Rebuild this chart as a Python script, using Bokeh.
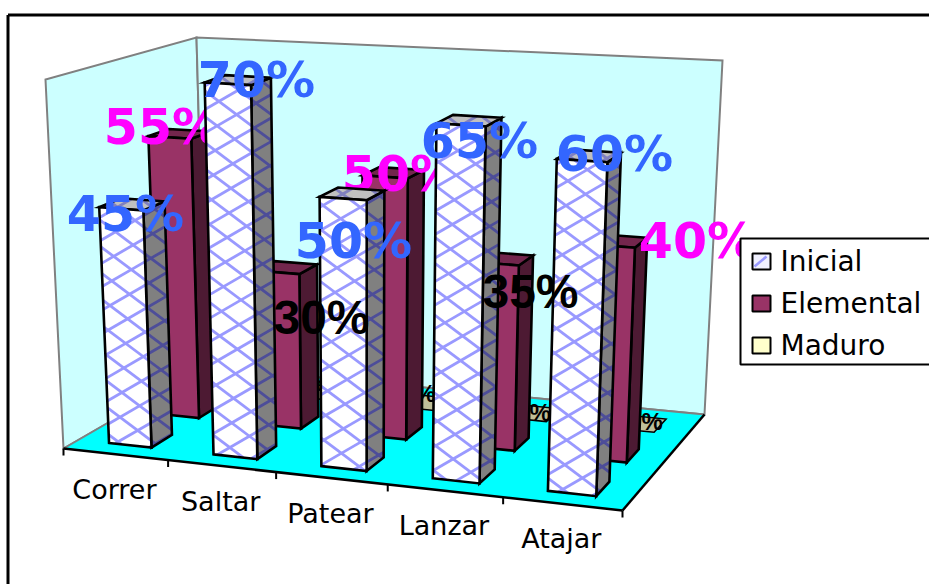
from bokeh.plotting import figure
from bokeh.embed import file_html
from bokeh.resources import INLINE
from bokeh.core.properties import value
import numpy as np

categories = ["Correr", "Saltar", "Patear", "Lanzar", "Atajar"]
series_names = ["Inicial", "Elemental", "Maduro"]
inicial = [45, 70, 50, 65, 60]
elemental = [55, 30, 50, 35, 40]
maduro = [0, 0, 0, 0, 0]
value_max = 70

# placement of the data labels, which were dragged by hand in the original
pos_inicial = [(125, 214), (256, 80), (353, 241), (479, 141), (614, 154)]
pos_elemental = [(162, 127), (321, 317), (400, 174), (530, 291), (697, 241)]
pos_maduro = [(190, 372), (305, 382), (418, 393), (533, 412), (645, 421)]
black_elemental = [1, 3]

# projection of the 3-D box onto the page
FL, FR, BR, BL = (63, 448), (622, 510), (704, 414), (205, 366)
V_FL, V_FR, V_BR, V_BL = (-18, -369), (14.5, -395), (18, -354), (-9, -329)
BAR_W, GAP_D, GAP_FLAT = 0.41, 0.29, 0.27


def homography(src, dst):
    A, b = [], []
    for (u, d), (x, y) in zip(src, dst):
        A.append([u, d, 1, 0, 0, 0, -u * x, -d * x]); b.append(x)
        A.append([0, 0, 0, u, d, 1, -u * y, -d * y]); b.append(y)
    return np.append(np.linalg.solve(np.array(A, float), np.array(b, float)), 1).reshape(3, 3)


H = homography([(0, 0), (1, 0), (1, 1), (0, 1)], [FL, FR, BR, BL])


def P(u, d, val=0.0):
    q = H @ np.array([u, d, 1.0])
    base = q[:2] / q[2]
    vx = np.array(V_FL) * (1 - u) * (1 - d) + np.array(V_FR) * u * (1 - d) + np.array(V_BR) * u * d + np.array(V_BL) * (1 - u) * d
    return base + vx * val / value_max


def clip_line(a, b, poly):
    """clip segment a-b to a convex polygon"""
    t0, t1 = 0.0, 1.0
    a, b = np.array(a, float), np.array(b, float)
    dr = b - a
    c = np.mean(poly, axis=0)
    n = len(poly)
    for i in range(n):
        p, q = np.array(poly[i]), np.array(poly[(i + 1) % n])
        e = q - p
        nrm = np.array([-e[1], e[0]])
        if np.dot(nrm, c - p) < 0:
            nrm = -nrm
        den = np.dot(nrm, dr)
        num = np.dot(nrm, a - p)
        if abs(den) < 1e-9:
            if num < 0:
                return None
            continue
        t = -num / den
        if den > 0:
            t0 = max(t0, t)
        else:
            t1 = min(t1, t)
    if t0 >= t1:
        return None
    return a + dr * t0, a + dr * t1


def lattice(poly):
    xs, ys = [], []
    for slope, step, phase in ((-0.58, 23.5, 6.0), (0.75, 26.0, 11.0)):
        for c in np.arange(-1400 + phase, 1400, step):
            a, b = (0, slope * 0 + c), (929, slope * 929 + c)
            r = clip_line(a, b, poly)
            if r:
                xs.append([r[0][0], r[1][0]])
                ys.append([r[0][1], r[1][1]])
    return xs, ys


p = figure(width=929, height=584, x_range=(0, 929), y_range=(584, 0), toolbar_location=None,
           output_backend="svg", min_border=0, margin=0)
p.axis.visible = False
p.grid.visible = False
p.outline_line_color = None
p.background_fill_color = "white"


def face(pts, fill, line="black", w=2.6):
    pts = [tuple(q) for q in pts]
    p.patch([q[0] for q in pts], [q[1] for q in pts], fill_color=fill, line_color=line, line_width=w,
            line_join="miter")


def label(txt, xy, color, size, bold=True, font="DejaVu Sans"):
    p.text([xy[0]], [xy[1]], text=[txt], text_color=color, text_font=value(font),
           text_font_size=f"{size}px", text_font_style="bold" if bold else "normal",
           text_align="center", text_baseline="middle")


# frame
p.line([7.5, 7.5], [584, 14.5], line_color="black", line_width=3)
p.line([7.5, 929], [14.5, 14.5], line_color="black", line_width=3)

# walls
face([P(0, 0), P(0, 1), P(0, 1, value_max), P(0, 0, value_max)], "#CCFFFF", "#808080", 2)
face([P(0, 1), P(1, 1), P(1, 1, value_max), P(0, 1, value_max)], "#CCFFFF", "#808080", 2)
# floor
face([P(0, 0), P(1, 0), P(1, 1), P(0, 1)], "#00FFFF", None, 0)
p.line(*zip(P(0, 1), P(0, 0)), line_color="#808080", line_width=2)
p.line(*zip(P(0, 1), P(1, 1)), line_color="#808080", line_width=2)
p.line(*zip(P(0, 0), P(1, 0)), line_color="black", line_width=2.5)
p.line(*zip(P(1, 0), P(1, 1)), line_color="black", line_width=2.5)
for i in range(len(categories) + 1):
    q = P(i / len(categories), 0)
    p.line([q[0], q[0]], [q[1], q[1] + 7], line_color="black", line_width=2)


def corners(c, s, v, gap=GAP_D):
    n = len(categories)
    u0, u1 = (c + 0.5 - BAR_W / 2) / n, (c + 0.5 + BAR_W / 2) / n
    d0, d1 = (s + gap) / 3, (s + 1 - gap) / 3
    return dict(a=P(u0, d0), b=P(u1, d0), c=P(u1, d1), d=P(u0, d1),
                A=P(u0, d0, v), B=P(u1, d0, v), C=P(u1, d1, v), D=P(u0, d1, v))


def bar(c, s, v, front, side, top, hatch=None):
    k = corners(c, s, v)
    faces = [([k["b"], k["c"], k["C"], k["B"]], side, hatch and hatch[1]),
             ([k["A"], k["B"], k["C"], k["D"]], top, hatch and hatch[2]),
             ([k["a"], k["b"], k["B"], k["A"]], front, hatch and hatch[0])]
    for pts, fill, hc in faces:
        p.patch([q[0] for q in pts], [q[1] for q in pts], fill_color=fill, line_color=None)
        if hc:
            xs, ys = lattice(pts)
            p.multi_line(xs, ys, line_color=hc, line_width=2.8)
        p.patch([q[0] for q in pts], [q[1] for q in pts], fill_color=None, line_color="black",
                line_width=2.6, line_join="miter")


# third series, then its labels
for c, v in enumerate(maduro):
    k = corners(c, 2, v, GAP_FLAT)
    pts = [k["A"], k["B"], k["C"], k["D"]]
    face(pts, "#BFBF99", "black", 1.5)
for c, v in enumerate(maduro):
    label(f"{v}%", pos_maduro[c], "black", 24, True, "Liberation Sans")

# second series
for c, v in enumerate(elemental):
    bar(c, 1, v, "#993366", "#4D1A33", "#73264D")
for c, v in enumerate(elemental):
    if c not in black_elemental:
        label(f"{v}%", pos_elemental[c], "#FF00FF", 49)

# first series
for c, v in enumerate(inicial):
    bar(c, 0, v, "white", "#808080", "#C0C0C0", ("#9999FF", "#4D4D99", "#8080C0"))
    label(f"{v}%", pos_inicial[c], "#3366FF", 49)

for c in black_elemental:
    label(f"{elemental[c]}%", pos_elemental[c], "black", 48, True, "Liberation Sans")

# category labels
for c, name in enumerate(categories):
    q = P((c + 0.5) / len(categories), 0)
    label(name, (q[0] - 1, q[1] + 35), "black", 27, False)

# legend
p.quad(left=[740], right=[940], top=[238], bottom=[364], fill_color="white", line_color="black", line_width=2)
sw_fill = ["#F0F0FF", "#993366", "#FFFFCC"]
for i, name in enumerate(series_names):
    cy = 261 + 42 * i
    p.quad(left=[752], right=[770], top=[cy - 8], bottom=[cy + 8], fill_color=sw_fill[i], line_color="black", line_width=2)
    p.text([780], [cy], text=[name], text_color="black", text_font=value("DejaVu Sans"),
           text_font_size="28px", text_align="left", text_baseline="middle")
p.line([754, 766], [266, 256], line_color="#9999FF", line_width=2.5)

open("out.html", "w").write(file_html(p, INLINE))
